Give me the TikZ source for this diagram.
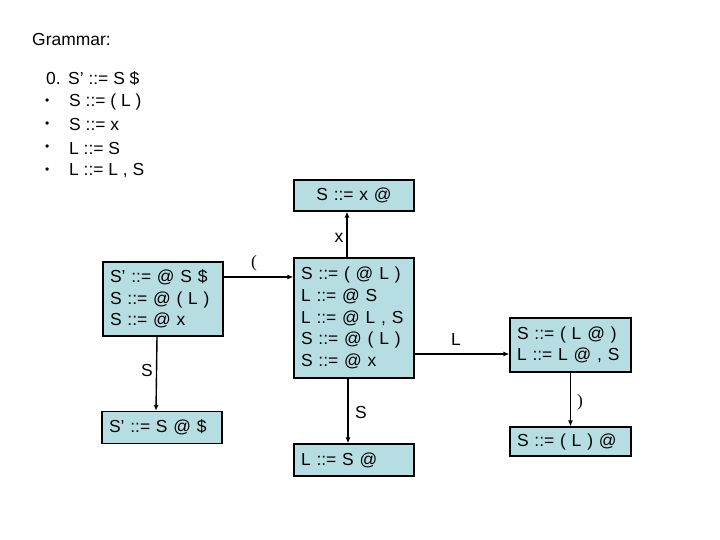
\documentclass[tikz,border=0pt]{standalone}
\usepackage{fontspec}
\setmainfont{Liberation Sans}
\usetikzlibrary{arrows.meta}
\definecolor{boxfill}{RGB}{182,221,226}
\tikzset{
  item/.style={draw=black, line width=1.2bp, fill=boxfill, minimum width=120bp,
    text width=106bp, inner xsep=7bp, inner ysep=0bp, align=left,
    font=\fontsize{17.5}{21.7}\selectfont},
  citem/.style={item, align=center},
  arr/.style={line width=1.4bp, -{Latex[length=6bp,width=5bp]}},
  lbl/.style={font=\fontsize{17.5}{21}\selectfont, inner sep=0pt},
  txt/.style={font=\fontsize{17.5}{21}\selectfont, inner sep=0pt, anchor=west}
}
\begin{document}
\begin{tikzpicture}[x=1bp,y=-1bp]
\useasboundingbox (0,0) rectangle (720,540);
% grammar
\node[txt] (g) at (32,40) {Grammar:};
\node[txt] (g0n) at (46,79) {0.};
\node[txt] (g0) at (68,79) {S’ ::= S \$};
\node[txt] (b1) at (45,102) {\fontsize{12}{12}\selectfont •};
\node[txt] (g1) at (69,102) {S ::= ( L )};
\node[txt] (b2) at (45,125) {\fontsize{12}{12}\selectfont •};
\node[txt] (g2) at (69,125) {S ::= x};
\node[txt] (b3) at (45,148) {\fontsize{12}{12}\selectfont •};
\node[txt] (g3) at (69,148) {L ::= S};
\node[txt] (b4) at (45,171) {\fontsize{12}{12}\selectfont •};
\node[txt] (g4) at (69,171) {L ::= L , S};
% boxes
\node[citem, minimum height=31bp] (top) at (354,195.5) {S ::= x @};
\node[item, minimum height=120bp] (mid) at (354,318) {S ::= ( @ L )\\L ::= @ S\\L ::= @ L , S\\S ::= @ ( L )\\S ::= @ x};
\node[item, minimum height=32bp] (ls) at (354,460) {L ::= S @};
\node[item, minimum height=74bp] (lb) at (163,299) {S’ ::= @ S \$\\S ::= @ ( L )\\S ::= @ x};
\node[item, minimum height=32bp] (blb) at (162,427.5) {S’ ::= S @ \$};
\node[item, minimum height=54bp, minimum width=121bp, text width=107bp] (rt) at (570.5,345) {S ::= ( L @ )\\L ::= L @ , S};
\node[item, minimum height=29bp, minimum width=121bp, text width=107bp] (rb) at (570.5,441.5) {S ::= ( L ) @};
% arrows
\draw[arr] ([xshift=-7bp]mid.north) -- ([xshift=-7bp]top.south);
\draw[arr] ([yshift=22bp]lb.east) coordinate (p1) -- (p1 -| mid.west);
\draw[arr] ([xshift=-6bp]lb.south) -- ([xshift=-6bp]blb.north);
\draw[arr] ([xshift=-6bp]mid.south) -- ([xshift=-6bp]ls.north);
\draw[arr] ([yshift=-36bp]mid.east) coordinate (p2) -- (p2 -| rt.west);
\draw[arr] (rt.south) -- (rb.north);
% labels
\node[lbl] (lx) at (339,238) {x};
\node[lbl] (lpar) at (254,263) {\fontspec{Liberation Serif}(};
\node[lbl] (ls1) at (147,370) {S};
\node[lbl] (ls2) at (361,412) {S};
\node[lbl] (lL) at (456,340) {L};
\node[lbl] (lrp) at (580,402) {\fontspec{Liberation Serif})};
\end{tikzpicture}
\end{document}
